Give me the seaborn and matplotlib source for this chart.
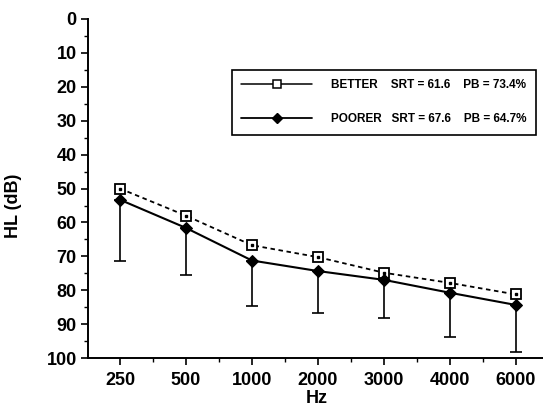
import numpy as np
import pandas as pd
import matplotlib
matplotlib.use("Agg")
import matplotlib.pyplot as plt
import seaborn as sns
from matplotlib.lines import Line2D
from matplotlib.ticker import MultipleLocator, FixedLocator

# Datos
frecuencias = ["250", "500", "1000", "2000", "3000", "4000", "6000"]
better = [50.0, 58.0, 66.7, 70.2, 74.8, 77.8, 81.2]
poorer = [53.3, 61.6, 71.2, 74.3, 76.9, 80.7, 84.3]
poorer_sd = [18.0, 13.8, 13.4, 12.3, 11.3, 13.1, 13.8]

etiquetas = ["BETTER    SRT = 61.6    PB = 73.4%",
             "POORER   SRT = 67.6    PB = 64.7%"]

df = pd.DataFrame({"Hz": frecuencias, "better": better, "poorer": poorer})

sns.set_style("ticks")
plt.rcParams["font.family"] = ["Liberation Sans", "DejaVu Sans"]
plt.rcParams["font.weight"] = "bold"
plt.rcParams["axes.labelweight"] = "bold"
plt.rcParams["text.color"] = "black"
plt.rcParams["axes.labelcolor"] = "black"

fig = plt.figure(figsize=(5.43, 4.09), dpi=100)
ax = fig.add_axes([0.162, 0.124, 0.838, 0.83])

# barras de error (solo hacia abajo)
pos = np.arange(len(frecuencias))
ax.errorbar(pos, poorer, yerr=[np.zeros(len(poorer)), poorer_sd], fmt="none",
            ecolor="black", elinewidth=1.2, capsize=4, capthick=1.2, zorder=2)

sns.lineplot(data=df, x="Hz", y="better", ax=ax, sort=False, color="black",
             linewidth=1.3, linestyle=(0, (2.5, 2)), marker="s", markersize=7,
             markerfacecolor="white", markeredgecolor="black", markeredgewidth=1.3,
             zorder=3)
ax.plot(pos, better, linestyle="none", marker="s", markersize=1.5, color="black", zorder=4)
sns.lineplot(data=df, x="Hz", y="poorer", ax=ax, sort=False, color="black",
             linewidth=1.5, marker="D", markersize=6, markerfacecolor="black",
             markeredgecolor="black", zorder=3)

ax.set_xlim(-0.485, 6.41)
ax.set_ylim(100, 0)
ax.yaxis.set_major_locator(MultipleLocator(10))
ax.yaxis.set_minor_locator(MultipleLocator(5))
ax.xaxis.set_minor_locator(FixedLocator(pos[:-1] + 0.5))
ax.set_xticks(pos)
ax.set_xticklabels(frecuencias)

ax.tick_params(axis="both", which="major", length=5, width=1.2, labelsize=13,
               color="black", labelcolor="black", pad=3)
ax.tick_params(axis="both", which="minor", length=3, width=1.0, color="black")
ax.tick_params(axis="x", which="major", pad=5)
for lab in ax.get_xticklabels() + ax.get_yticklabels():
    lab.set_fontweight("bold")

sns.despine(ax=ax)
ax.spines["left"].set_linewidth(1.4)
ax.spines["bottom"].set_linewidth(1.4)
ax.spines["left"].set_color("black")
ax.spines["bottom"].set_color("black")

ax.set_xlabel("Hz", fontsize=13, fontweight="bold", color="black")
ax.set_ylabel("HL (dB)", fontsize=13, fontweight="bold", color="black")
ax.xaxis.set_label_coords(0.502, -0.094)
ax.yaxis.set_label_coords(-0.145, 0.448)

handles = [
    Line2D([], [], color="black", linewidth=1.1, marker="s", markersize=5.5,
           markerfacecolor="white", markeredgecolor="black", markeredgewidth=1.1),
    Line2D([], [], color="black", linewidth=1.3, marker="D", markersize=5,
           markerfacecolor="black"),
]
leg = ax.legend(handles, etiquetas, loc="upper right",
                bbox_to_anchor=(536 / 543, 1 - 70 / 409), bbox_transform=fig.transFigure,
                frameon=True, fancybox=False, framealpha=1, edgecolor="black",
                prop={"family": "Liberation Sans", "weight": "bold", "size": 8.5},
                handlelength=6.0, handletextpad=1.6, labelspacing=1.85,
                borderpad=0.8, borderaxespad=0)
leg.get_frame().set_linewidth(1.2)
for t in leg.get_texts():
    t.set_color("black")

fig.savefig("out.png", dpi=100)
